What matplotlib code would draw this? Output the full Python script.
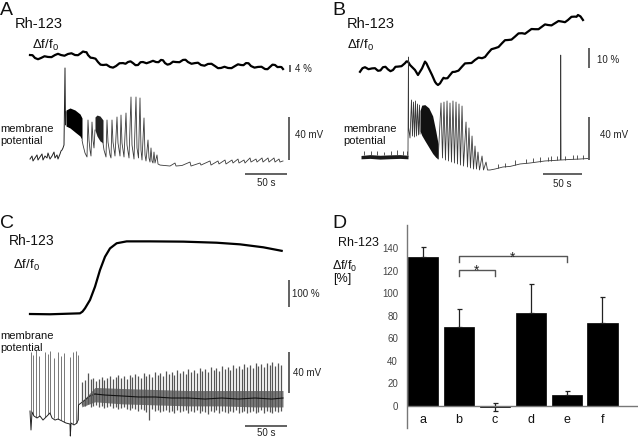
import matplotlib
matplotlib.use('Agg')
import matplotlib.pyplot as plt

plt.rcParams['font.family'] = ['Liberation Sans', 'DejaVu Sans']
plt.rcParams['mathtext.fontset'] = 'custom'
plt.rcParams['mathtext.rm'] = 'Liberation Sans'

W, H = 640, 440
TRACE = '#3a3a3a'
BAR = '#555555'

# ---------------- Panel A ----------------
# Rh-123 fluorescence (% df/f0), time in s
a_rh_t = [0, 3, 6, 9.6, 13.2, 17.4, 21.6, 25.8, 30, 33.6, 37.2, 41.4, 45.6, 49.8, 54, 57.6, 61.2,
          63.6, 66, 67.8, 69.6, 72.6, 75.6, 78.6, 81.6, 84.6, 87.6, 91.8, 96, 99.6, 103.2, 107.4,
          111.6, 114.6, 117.6, 120.6, 123.6, 126.6, 129.6, 132.6, 135.6, 139.8, 144, 147.6, 151.2,
          154.2, 157.2, 159.6, 162, 165, 168, 171.6, 175.2, 179.4, 183.6, 186.6, 189.6, 193.8,
          198, 201.6, 205.2, 209.4, 213.6, 217.8, 222, 225.6, 229.2, 233.4, 237.6, 241.8, 246,
          249.6, 253.2, 256.2, 259.2, 262.2, 265.2, 269.4, 273.6, 277.8, 282, 285, 288, 291, 294,
          297, 300, 301.8, 303.6]
a_rh_v = [9.7, 9.6, 8.0, 7.3, 8.0, 9.0, 8.6, 8.5, 9.7, 10.4, 9.7, 9.3, 10.3, 10.7, 9.7, 9.6, 10.8,
          11.7, 11.4, 11.3, 9.7, 8.2, 8.0, 7.6, 5.7, 4.2, 4.0, 4.2, 2.9, 2.5, 3.4, 5.0, 5.1, 4.7,
          5.7, 6.1, 5.1, 3.9, 4.0, 5.6, 5.7, 5.0, 5.7, 6.4, 5.7, 5.6, 6.9, 6.7, 5.1, 4.2, 4.6,
          5.9, 5.7, 5.6, 6.9, 7.0, 5.7, 4.7, 5.1, 5.3, 4.0, 3.6, 4.6, 4.7, 3.4, 2.2, 2.3, 3.0,
          2.3, 2.2, 3.4, 4.4, 4.0, 3.9, 5.1, 5.0, 3.4, 2.5, 2.9, 3.0, 1.7, 1.6, 2.9, 4.2, 4.0,
          2.8, 2.9, 2.8, 1.7]

# membrane potential (mV)
a_mem1_t = [0, 2.4, 3.6, 6.0, 8.4, 9.6, 12.0, 14.4, 15.6, 18.0, 20.4, 21.6, 24.0, 26.4, 28.8,
            30.0, 32.4, 33.6, 36.0, 37.2, 38.4, 39.6, 40.8, 42.0, 42.6, 43.2]
a_mem1_v = [-59.1, -56.3, -60.9, -58.1, -55.3, -60.0, -57.2, -54.4, -60.0, -56.3, -58.1, -53.5,
            -59.1, -56.3, -52.6, -58.1, -55.3, -59.1, -54.4, -51.6, -50.7, -48.8, -46.0, 25.6,
            -27.4, -15.4]
a_burst1_t = [43.2, 48, 54, 60, 62.4]
a_burst1_top = [-13.5, -11.6, -13.5, -17.2, -20.9]
a_burst1_bot = [-28.4, -30.2, -34.0, -37.7, -41.4]
a_mem2_t = [62.4, 63.6, 66, 68.4, 69.6, 70.8, 72, 73.2, 74.4, 75.6, 76.8, 78]
a_mem2_v = [-41.4, -46.0, -53.5, -57.2, -22.8, -41.4, -50.7, -56.3, -24.7, -41.4, -48.8, -32.1]
a_burst2_t = [78, 80.4, 84, 87.6]
a_burst2_top = [-20.0, -18.2, -19.1, -22.8]
a_burst2_bot = [-32.1, -37.7, -42.3, -44.2]
a_mem3_t = [87.6, 88.8, 91.2, 92.4, 93.6, 96, 97.2, 98.4, 99.6, 102, 104.4, 105.6, 108, 109.2,
            110.4, 112.8, 115.2, 116.4, 118.8, 121.2, 122.4, 124.8, 127.2, 128.4, 130.2, 132,
            133.2, 134.4, 136.8, 138, 139.2, 141.6, 142.8, 144, 145.2, 146.4, 147.6, 148.8, 150,
            152.4, 153.6, 156, 168, 174, 175.2, 182.4, 192, 193.2, 204, 205.2, 216, 217.2, 225.6,
            226.8, 234, 235.2, 242.4, 243.6, 249.6, 250.8, 256.8, 258, 264, 265.2, 271.2, 272.4,
            278.4, 279.6, 285.6, 286.8, 292.8, 294, 298.8, 300, 303.6]
a_mem3_v = [-44.2, -50.7, -57.2, -22.8, -43.3, -55.3, -58.1, -22.8, -43.3, -56.3, -20.0, -44.2,
            -56.3, -18.2, -44.2, -57.2, -16.3, -46.0, -58.1, -1.4, -46.0, -59.1, -1.4, -48.8,
            -58.1, -2.3, -50.7, -60.0, -20.9, -55.3, -60.9, -41.4, -58.1, -61.9, -48.8, -60.9,
            -62.8, -52.6, -62.8, -55.3, -63.7, -64.7, -65.6, -62.8, -65.6, -65.1, -61.9, -65.6,
            -62.8, -64.7, -60.9, -64.7, -60.9, -63.7, -60.0, -63.7, -60.0, -62.8, -59.1, -62.8,
            -60.0, -62.8, -58.1, -61.9, -59.1, -61.9, -58.1, -61.9, -58.1, -61.9, -58.1, -61.9,
            -59.1, -61.9, -60.9]

# ---------------- Panel B ----------------
b_rh_t = [0, 3.2, 6.4, 10.9, 15.4, 19.2, 23.0, 26.2, 29.4, 32.6, 35.8, 39.0, 42.2, 45.4, 48.6,
          53.1, 57.6, 59.5, 61.4, 62.7, 64.0, 67.2, 70.4, 72.3, 74.2, 76.8, 79.4, 81.3, 83.2,
          85.1, 87.0, 89.6, 92.2, 94.1, 96.0, 97.9, 99.8, 102.4, 105.0, 106.9, 108.8, 112.0,
          115.2, 118.4, 121.6, 126.1, 130.6, 134.4, 138.2, 142.7, 147.2, 151.7, 156.2, 160.0,
          163.8, 168.3, 172.8, 177.3, 181.8, 185.6, 189.4, 193.9, 198.4, 202.9, 207.4, 211.2,
          215.0, 219.5, 224.0, 228.5, 233.0, 236.8, 240.6, 245.1, 249.6, 254.1, 258.6, 262.4,
          266.2, 270.7, 275.2, 277.1, 279.0, 282.2, 285.4]
b_rh_v = [-1.9, -0.1, 0.4, -0.6, -0.2, -0.1, -1.4, -1.2, 0.4, 0.6, -0.7, -1.6, -1.0, 0.6, 0.7,
          0.9, 2.4, 3.3, 3.2, 2.35, 1.5, 0.25, -1.0, -2.25, -3.5, -1.85, -0.2, 1.5, 3.2, 2.3, 0.7,
          -1.4, -3.5, -5.2, -6.9, -7.9, -8.5, -7.7, -6.0, -4.9, -5.2, -5.1, -3.5, -2.0, -1.9,
          -1.3, 0.7, 2.3, 2.4, 2.5, 4.0, 5.2, 4.9, 5.5, 7.4, 9.4, 9.9, 10.5, 12.4, 13.9, 14.0,
          14.2, 15.7, 17.3, 17.4, 17.1, 18.2, 19.5, 19.4, 19.4, 20.7, 21.8, 21.5, 21.3, 22.4,
          23.5, 23.2, 22.9, 24.0, 25.6, 25.7, 25.6, 26.5, 25.8, 24.0]

b_rest_t = [1.3, 12.8, 25.6, 38.4, 51.2, 61.4]
b_rest_top = [-55.8, -55.0, -55.6, -55.2, -55.0, -55.6]
b_rest_bot = [-58.9, -58.5, -59.2, -58.8, -58.5, -58.9]
b_rest_spk_t = [5.1, 14.1, 21.8, 30.7, 39.7, 47.4, 55.0, 60.2]
b_rest_spk_v = [-51.6, -52.0, -51.2, -52.6, -51.6, -50.7, -51.2, -52.0]
b_mem1_t = [61.4, 62.0, 62.2, 64.0, 65.9, 67.2, 68.5, 69.8, 71.0, 72.3, 73.6, 74.9, 76.2, 76.8]
b_mem1_v = [-57.0, 35.8, -30.0, -39.5, -4.2, -37.7, -6.1, -38.6, -5.1, -37.7, -7.9, -36.7,
            -8.9, -35.8]
b_burst_t = [76.8, 79.0, 83.0, 88.0, 93.0, 97.0, 100.0]
b_burst_top = [-14.0, -9.0, -8.5, -11.5, -19.0, -33.0, -45.0]
b_burst_bot = [-33.0, -37.0, -42.0, -48.0, -54.0, -57.5, -59.0]
b_mem2_t = [100.0, 103.7, 105.6, 107.5, 109.4, 111.4, 113.3, 115.2, 117.1, 119.0, 120.9, 122.9,
            124.8, 126.7, 128.6, 130.6, 132.5, 135.7, 137.6, 139.5, 141.4, 143.4, 145.3, 147.2,
            149.1, 151.0, 153.0, 156.2, 158.1, 161.3, 163.2, 166.4, 172.8, 183.0, 192.0, 204.8,
            217.6, 226.6, 236.8, 247.0, 256.6, 256.9, 257.3, 268.8, 281.6, 291.8]
b_mem2_v = [-59.0, -7.0, -58.1, -6.1, -60.0, -5.1, -60.9, -7.0, -61.9, -5.1, -62.8, -6.1, -63.7,
            -7.9, -64.7, -9.8, -65.6, -24.7, -66.5, -30.2, -67.4, -37.7, -68.4, -47.0, -68.4,
            -52.6, -69.3, -56.3, -69.3, -61.9, -69.3, -69.3, -68.4, -66.5, -66.0, -63.7, -62.8,
            -61.9, -60.9, -60.5, -60.0, 37.6, -60.0, -59.5, -59.1, -58.6]
b_late_spk_t = [176, 186, 199, 212, 222, 231, 240, 245, 252, 263, 272, 278, 286]
b_late_spk_base = [-67.5, -66.5, -64.5, -63.0, -62.3, -61.5, -61.0, -60.7, -60.3, -59.8, -59.3,
                   -59.0, -58.8]
b_late_spk_peak = [-63.5, -62.5, -60.0, -59.0, -58.5, -57.5, -57.0, -56.5, -56.5, -56.0, -55.5,
                   -55.5, -55.0]

# ---------------- Panel C ----------------
c_rh_t = [0, 24, 60, 63, 66, 72, 78, 84, 90, 96, 104, 116, 144, 184, 224, 252, 280, 302]
c_rh_v = [0, -1, 2.5, 9, 21, 52, 101, 163, 212, 243, 262, 269, 269, 268, 264, 258, 247, 234]

c_mem1_t = [0, 1.2, 2.4, 4.8, 8.4, 12, 15.6, 20.4, 24, 26.4, 30, 33.6, 38.4, 43.2, 48, 48.4,
            49.2, 52.8, 56.4, 57.6, 58.2, 61.2, 66, 72, 78]
c_mem1_v = [-61, -79.5, -62, -65.9, -67.8, -65.9, -69.8, -65.9, -62.9, -67.8, -69.8, -68.8,
            -70.7, -72.7, -73.7, -85.4, -72.7, -74.6, -72.7, -69.8, -55.1, -53.2, -50.2, -46.3,
            -44.4]
c_early_spk_t = [1.2, 4.0, 6.8, 10.8, 18.0, 21.2, 24.0, 29.2, 33.2, 37.2, 41.2, 48.0, 52.0, 54.8,
                 57.2]
c_early_spk_top = [-3.4, -6.3, -1.5, -7.3, -3.4, -5.4, -2.4, -9.3, -3.4, -7.3, -4.4, -8.3, -3.4,
                   -2.4, -6.3]
c_early_spk_base = [-62, -65, -67, -66, -67, -64, -63, -68, -69, -70, -72, -73, -74, -73, -70]
c_mid_t = [78, 90, 110, 130, 150, 170, 190, 210, 230, 250, 270, 290, 303.6]
c_mid_v = [-44.4, -45.4, -46.3, -47.3, -47.3, -48.3, -48.3, -49.3, -48.3, -49.3, -48.3, -49.3,
           -48.3]
c_band_t = [62, 78, 110, 150, 190, 230, 270, 303.6]
c_band_top = [-52, -38, -39, -40, -41, -41, -41, -41]
c_band_bot = [-57, -52, -54, -55, -56, -56, -57, -57]
c_spk_t = [62.4, 66, 69.6, 72.6, 75.6, 79.2, 82.8, 85.8, 88.8, 92.4, 96, 99.6, 102.6, 105.6,
           109.2, 112.8, 116.4, 119.4, 122.4, 126, 129.6, 133.2, 136.2, 139.2, 142.8, 146.4, 150,
           153, 156, 159.6, 163.2, 166.8, 169.8, 172.8, 176.4, 180, 183.6, 186.6, 189.6, 193.2,
           196.8, 200.4, 203.4, 206.4, 210, 213.6, 217.2, 220.2, 223.2, 226.8, 230.4, 234, 237,
           240, 243.6, 247.2, 250.8, 253.8, 256.8, 260.4, 264, 267.6, 270.6, 273.6, 277.2, 280.8,
           284.4, 287.4, 290.4, 294, 297.6, 301.2]
c_spk_top = [-33, -31, -24, -30, -29, -32, -30, -28, -31, -29,
             -27, -30, -28, -26, -29, -27, -30, -26, -28, -25,
             -27, -29, -24, -27, -25, -28, -23, -26, -24, -27,
             -22, -25, -23, -26, -21, -24, -22, -25, -20, -23,
             -21, -24, -19, -22, -20, -23, -18, -21, -19, -22,
             -17, -20, -18, -21, -16, -19, -17, -20, -15, -18,
             -16, -19, -14, -17, -15, -18, -14, -16, -13, -17,
             -14, -16]
c_spk_bot = [-55, -56, -54, -57, -56, -55, -57, -56, -58, -57,
             -56, -58, -57, -59, -58, -57, -59, -60, -58, -59,
             -61, -59, -60, -62, -70, -59, -61, -60, -62, -61,
             -60, -62, -61, -63, -60, -62, -61, -60, -63, -61,
             -62, -60, -63, -61, -62, -64, -61, -62, -60, -63,
             -61, -62, -63, -61, -62, -60, -63, -62, -61, -63,
             -62, -61, -63, -62, -60, -63, -61, -62, -63, -61,
             -62, -61]

# ---------------- Panel D ----------------
categories = ['a', 'b', 'c', 'd', 'e', 'f']
means = [131.7, 69.7, -1.0, 82.4, 9.5, 73.8]
err_up = [9.2, 15.9, 3.5, 25.4, 3.5, 23.1]
err_down = [0, 0, 3.5, 0, 0, 0]
yticks = [0, 20, 40, 60, 80, 100, 120, 140]
sig_left = [1, 1]
sig_right = [2, 4]
sig_level = [120.8, 132.9]


fig = plt.figure(figsize=(6.4, 4.4), dpi=100)


def px_axes(box, x0px, px_per_s, y0px, px_per_unit):
    """box = (left, top, right, bottom) in pixels; maps data units onto pixels."""
    left, top, right, bottom = box
    ax = fig.add_axes([left / W, 1 - bottom / H, (right - left) / W, (bottom - top) / H])
    ax.set_xlim((left - x0px) / px_per_s, (right - x0px) / px_per_s)
    ax.set_ylim((y0px - bottom) / px_per_unit, (y0px - top) / px_per_unit)
    ax.axis('off')
    ax.patch.set_visible(False)
    return ax


def px_text(x, y, s, **kw):
    fig.text(x / W, 1 - y / H, s, **kw)


def vbar(ax, t, v0, v1, label, tx, ty):
    ax.plot([t, t], [v0, v1], color=BAR, lw=1.3, clip_on=False, solid_capstyle='butt')
    ax.text(tx, ty, label, fontsize=7, color='#222222', ha='left', va='center')


def hbar(ax, t0, t1, v, label, ty):
    ax.plot([t0, t1], [v, v], color=BAR, lw=1.3, clip_on=False, solid_capstyle='butt')
    ax.text((t0 + t1) / 2, ty, label, fontsize=7, color='#222222', ha='center', va='center')


# ---- A
ax = px_axes((25, 40, 330, 80), 30, 1 / 1.2, 72, 1.75)
ax.plot(a_rh_t, a_rh_v, color='black', lw=1.6)
vbar(ax, 312, 0, 4, '4 %', 318, 2)

ax = px_axes((25, 55, 330, 190), 30, 1 / 1.2, 95.5, 1.075)
ax.plot(a_mem1_t, a_mem1_v, color='#222222', lw=0.7)
ax.fill_between(a_burst1_t, a_burst1_bot, a_burst1_top, color='black', lw=0)
ax.plot(a_mem2_t, a_mem2_v, color=TRACE, lw=0.6)
ax.fill_between(a_burst2_t, a_burst2_bot, a_burst2_top, color='#222222', lw=0)
ax.plot(a_mem3_t, a_mem3_v, color=TRACE, lw=0.6)
vbar(ax, 311, -60, -20, '40 mV', 318, -36.7)
hbar(ax, 258, 308, -73, '50 s', -81.4)

# ---- B
ax = px_axes((355, 5, 640, 95), 360, 1 / 1.28, 68, 2.0)
ax.plot(b_rh_t, b_rh_v, color='black', lw=1.6)
vbar(ax, 293, 0, 10, '10 %', 303, 4)

ax = px_axes((355, 45, 640, 190), 360, 1 / 1.28, 95.5, 1.075)
ax.fill_between(b_rest_t, b_rest_bot, b_rest_top, color='#1a1a1a', lw=0)
ax.vlines(b_rest_spk_t, -55, b_rest_spk_v, color=TRACE, lw=0.6)
ax.plot(b_mem1_t, b_mem1_v, color=TRACE, lw=0.6)
ax.fill_between(b_burst_t, b_burst_bot, b_burst_top, color='#111111', lw=0)
ax.plot(b_mem2_t, b_mem2_v, color=TRACE, lw=0.6)
ax.vlines(b_late_spk_t, b_late_spk_base, b_late_spk_peak, color=TRACE, lw=0.6)
vbar(ax, 293, -60, -20, '40 mV', 307, -36.7)
hbar(ax, 234, 284, -73, '50 s', -82.3)

# ---- C
ax = px_axes((25, 230, 330, 320), 30, 1 / 1.2, 314, 0.27)
ax.plot(c_rh_t, c_rh_v, color='black', lw=1.6)
vbar(ax, 311, 25, 125, '100 %', 315, 74)

ax = px_axes((25, 340, 330, 440), 30, 1 / 1.2, 348.5, 1.025)
ax.vlines(c_early_spk_t, c_early_spk_base, c_early_spk_top, color='#777777', lw=0.7)
ax.plot(c_mem1_t, c_mem1_v, color='#222222', lw=0.7)
ax.vlines(c_spk_t, c_spk_bot, c_spk_top, color='#555555', lw=0.9)
ax.fill_between(c_band_t, c_band_bot, c_band_top, color='#222222', alpha=0.6, lw=0)
ax.plot(c_mid_t, c_mid_v, color='#111111', lw=0.8)
vbar(ax, 311, -43, -3, '40 mV', 316, -23.9)
hbar(ax, 258, 308, -75.6, '50 s', -82.4)

# ---- D bar chart
axd = fig.add_axes([407 / W, 1 - 428 / H, (638 - 407) / W, (428 - 225) / H])
x = list(range(len(categories)))
axd.bar(x, means, width=0.84, color='black', edgecolor='black', linewidth=0.5)
axd.errorbar(x, means, yerr=[err_down, err_up], fmt='none', ecolor='#222222',
             elinewidth=0.9, capsize=1.8, capthick=0.9)
axd.set_xlim(-0.446, 5.99)
axd.set_ylim(-19.5, 160.4)
axd.axhline(0, color='#777777', lw=1)
for side in ['top', 'right', 'bottom']:
    axd.spines[side].set_visible(False)
axd.spines['left'].set_color('#777777')
axd.spines['left'].set_linewidth(1)
axd.set_xticks([])
axd.set_yticks(yticks)
axd.tick_params(axis='y', length=0, pad=6.5, labelsize=7, labelcolor='#444444')
axd.patch.set_visible(False)
for i, cat in enumerate(categories):
    axd.text(i, -12.4, cat, ha='center', va='center', fontsize=9, color='#111111')
for l, r, lev in zip(sig_left, sig_right, sig_level):
    axd.plot([l, l, r, r], [lev - 5.6, lev, lev, lev - 5.6], color='#555555', lw=1)
    axd.text((l + r) / 2, lev - 7.5, '*', ha='center', va='bottom', fontsize=10, color='#222222')

# ---- text labels
for letter, lx, ly in [('A', 0, 15), ('B', 332, 15), ('C', 0, 228), ('D', 332, 228)]:
    px_text(lx, ly, letter, fontsize=14, va='baseline', color='#111111')

for rx, ry, dx, dy, fs in [(15, 24, 32, 45, 10.5), (347, 24, 347, 45, 10.5), (9, 241, 13, 265, 10)]:
    px_text(rx, ry, 'Rh-123', fontsize=fs, va='center', color='#111111')
    px_text(dx, dy, 'Δf/f$_{\\mathrm{0}}$', fontsize=9.5, va='center', color='#111111')

px_text(338, 243, 'Rh-123', fontsize=9, va='center', color='#111111')
px_text(332, 266, 'Δf/f$_{\\mathrm{0}}$', fontsize=9, va='center', color='#111111')
px_text(333, 279, '[%]', fontsize=9, va='center', color='#111111')

for mx, my in [(0, 135), (343, 135), (0, 341.5)]:
    px_text(mx, my, 'membrane\npotential', fontsize=8, va='center', ha='left',
            linespacing=1.25, color='#111111')

fig.savefig('out.png', dpi=100)
